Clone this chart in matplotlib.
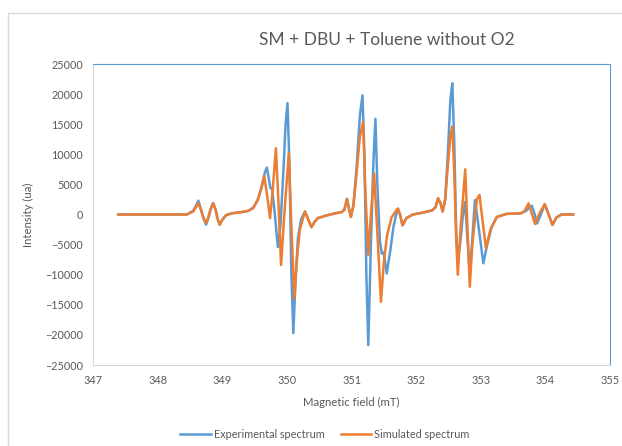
import matplotlib
matplotlib.use("Agg")
import matplotlib.pyplot as plt
from matplotlib.patches import Rectangle

# experimental spectrum
exp_x = [347.39, 348.0, 348.45, 348.55, 348.6, 348.63, 348.67, 348.71, 348.75, 348.79,
         348.82, 348.86, 348.9, 348.93, 348.96, 349.0, 349.06, 349.15, 349.3, 349.4,
         349.48, 349.55, 349.61, 349.66, 349.69, 349.72, 349.745, 349.77, 349.81, 349.86,
         349.9, 349.95, 349.98, 350.01, 350.04, 350.07, 350.1, 350.13, 350.17, 350.22,
         350.28, 350.33, 350.38, 350.43, 350.48, 350.6, 350.75, 350.85, 350.89, 350.93,
         350.96, 350.99, 351.03, 351.08, 351.13, 351.17, 351.2, 351.23, 351.26, 351.3,
         351.34, 351.37, 351.4, 351.44, 351.47, 351.5, 351.545, 351.6, 351.65, 351.7,
         351.72, 351.75, 351.79, 351.85, 351.95, 352.1, 352.25, 352.3, 352.34, 352.38,
         352.41, 352.45, 352.49, 352.53, 352.56, 352.59, 352.62, 352.645, 352.68, 352.72,
         352.76, 352.79, 352.83, 352.87, 352.91, 352.96, 353.04, 353.1, 353.17, 353.25,
         353.4, 353.62, 353.7, 353.75, 353.79, 353.83, 353.87, 353.93, 353.99, 354.05,
         354.11, 354.17, 354.25, 354.43]
exp_y = [0, 0, 0, 600, 1600, 2300, 900, -600, -1700, -400,
         900, 1900, 700, -800, -1700, -900, -100, 200, 400, 600,
         1100, 2400, 4500, 7000, 7800, 6000, 4400, 4300, 500, -5400,
         -2000, 8000, 15000, 18500, 8000, -10000, -19700, -12000, -4000, -800,
         500, -800, -2100, -1200, -600, -200, 200, 400, 800, 2600,
         1000, -400, 1500, 8000, 16500, 19800, 10000, -10000, -21700, -5000,
         9000, 15900, 5000, -4500, -6500, -6300, -9800, -6000, -2000, 400,
         800, 0, -1800, -600, 0, 300, 700, 1200, 2700, 1800,
         500, 2500, 10000, 19000, 21800, 12000, -3000, -7500, -5000, -500,
         2100, -3500, -9700, -4000, 2400, -1500, -8100, -5000, -2000, -400,
         100, 200, 600, 1100, 1450, 200, -1500, 0, 1700, 0,
         -1700, -500, 0, 0]

# simulated spectrum
sim_x = [347.39, 348.0, 348.45, 348.55, 348.6, 348.63, 348.67, 348.71, 348.75, 348.79,
         348.82, 348.86, 348.9, 348.93, 348.96, 349.0, 349.06, 349.15, 349.3, 349.4,
         349.48, 349.55, 349.6, 349.65, 349.69, 349.74, 349.78, 349.83, 349.87, 349.91,
         349.96, 350.03, 350.07, 350.115, 350.15, 350.2, 350.28, 350.33, 350.38, 350.43,
         350.48, 350.6, 350.75, 350.85, 350.89, 350.93, 350.96, 350.99, 351.03, 351.08,
         351.13, 351.18, 351.21, 351.26, 351.3, 351.35, 351.4, 351.456, 351.5, 351.55,
         351.62, 351.7, 351.72, 351.75, 351.79, 351.85, 351.95, 352.1, 352.25, 352.3,
         352.34, 352.38, 352.41, 352.45, 352.49, 352.53, 352.56, 352.59, 352.62, 352.645,
         352.69, 352.76, 352.79, 352.83, 352.87, 352.94, 352.98, 353.08, 353.15, 353.25,
         353.4, 353.62, 353.68, 353.74, 353.8, 353.84, 353.9, 353.99, 354.05, 354.11,
         354.17, 354.25, 354.43]
sim_y = [0, 0, 0, 500, 1300, 1900, 800, -600, -1400, -300,
         900, 1900, 700, -800, -1700, -900, -100, 200, 400, 600,
         1100, 2500, 4300, 6400, 3500, -600, 4000, 11000, 2000, -8400,
         0, 10200, -2000, -14000, -8000, -2500, 500, -800, -2100, -1200,
         -600, -200, 200, 400, 800, 2600, 1000, -400, 1500, 7000,
         13000, 15400, 5000, -6700, 0, 6800, -3000, -14500, -8000, -3500,
         -500, 800, 1000, 0, -1800, -600, 0, 300, 700, 1200,
         2700, 1800, 500, 2500, 8000, 13000, 14600, 7000, -4000, -10000,
         -2000, 7500, -1000, -12000, -5000, 2500, 3250, -5600, -2500, -400,
         100, 200, 600, 1850, -200, -1600, 0, 1750, 0, -1750,
         -500, 0, 0]

x_ticks = [347, 348, 349, 350, 351, 352, 353, 354, 355]
y_ticks = [-25000, -20000, -15000, -10000, -5000, 0, 5000, 10000, 15000, 20000, 25000]

plt.rcParams['font.family'] = ['Lato', 'DejaVu Sans']
grey = '#595959'

W, H = 622, 446
fig = plt.figure(figsize=(W / 100, H / 100), dpi=100)
ax = fig.add_axes([93 / W, 1 - 365 / H, (610 - 93) / W, (365 - 64) / H])

ax.plot(exp_x, exp_y, color='#5b9bd5', lw=1.8, solid_joinstyle='round',
        label='Experimental spectrum')
ax.plot(sim_x, sim_y, color='#ed7d31', lw=1.8, solid_joinstyle='round',
        label='Simulated spectrum')

ax.set_xlim(347, 355)
ax.set_ylim(-25000, 25000)
ax.set_xticks(x_ticks)
ax.set_yticks(y_ticks)
ax.tick_params(length=0, labelsize=7.8, colors=grey, pad=7)
for s in ['top', 'right']:
    ax.spines[s].set_color('#5b9bd5')
for s in ['left', 'bottom']:
    ax.spines[s].set_color('#d9d9d9')

ax.set_xlabel('Magnetic field (mT)', fontsize=8.2, color=grey, labelpad=8)
ax.set_ylabel('Intensity (ua)', fontsize=8.2, color=grey, labelpad=8)

fig.text(387 / W, 1 - 40 / H, 'SM + DBU + Toluene without O2', ha='center', va='center',
         fontsize=12.5, color=grey)

fig.legend(loc='center', bbox_to_anchor=(325 / W, 1 - 434 / H), ncol=2, frameon=False,
           fontsize=7.8, labelcolor=grey, handlelength=2.8, columnspacing=1.5,
           handletextpad=0.3)

# outer chart border
fig.add_artist(Rectangle((8 / W, -0.1), 1.2, (H - 13) / H + 0.1, transform=fig.transFigure,
                         fill=False, edgecolor='#d9d9d9', lw=1))

fig.savefig('out.png', dpi=100)
